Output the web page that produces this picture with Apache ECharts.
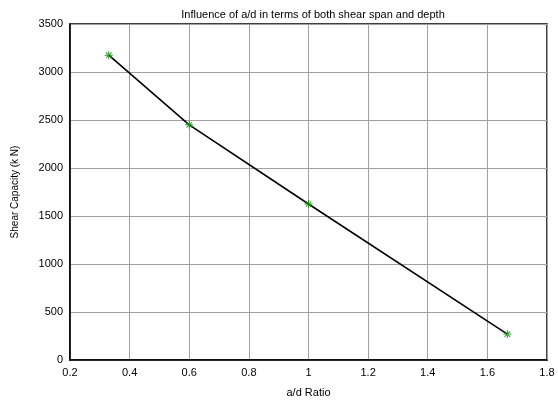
<!DOCTYPE html>
<html>
<head>
<meta charset="utf-8">
<script src="https://cdn.jsdelivr.net/npm/echarts@6/dist/echarts.min.js"></script>
<style>
html,body{margin:0;padding:0;background:#fff;}
#chart{width:558px;height:403px;}
</style>
</head>
<body>
<div id="chart"></div>
<script>
const titleText = 'Influence of a/d in terms of both shear span and depth';
const xName = 'a/d Ratio';
const yName = 'Shear Capacity (k N)';
const adRatio = [0.33, 0.6, 1.0, 1.667];
const shearCapacity = [3175, 2450, 1625, 270];

const starPath = 'path://M-0.6,-5h1.2v10h-1.2z M-5,-0.6h10v1.2h-10z M-3.9,-3.1L3.1,3.9L3.9,3.1L-3.1,-3.9z M3.1,-3.9L3.9,-3.1L-3.1,3.9L-3.9,3.1z';

const chart = echarts.init(document.getElementById('chart'));
const font = 'Liberation Sans, Arial, sans-serif';
chart.setOption({
  animation: false,
  backgroundColor: '#fff',
  title: {
    text: titleText,
    left: 308, top: 4, textAlign: 'center',
    textStyle: {fontFamily: font, fontSize: 11, fontWeight: 'normal', color: '#000'}
  },
  grid: {left: 70, right: 11, top: 24, bottom: 43, show: true, borderColor: '#000', borderWidth: 1.5, backgroundColor: '#fff'},
  xAxis: {
    type: 'value', min: 0.2, max: 1.8, interval: 0.2,
    name: xName, nameLocation: 'middle', nameGap: 27,
    nameTextStyle: {fontFamily: font, fontSize: 11, color: '#000'},
    axisLine: {show: true, lineStyle: {color: '#000', width: 1.5}},
    axisTick: {show: false},
    axisLabel: {fontFamily: font, fontSize: 11, color: '#000', margin: 7,
      formatter: v => String(+v.toFixed(1))},
    splitLine: {show: true, lineStyle: {color: '#a0a0a0', width: 1}}
  },
  yAxis: {
    type: 'value', min: 0, max: 3500, interval: 500,
    name: yName, nameLocation: 'middle', nameGap: 50,
    nameTextStyle: {fontFamily: font, fontSize: 10, color: '#000'},
    axisLine: {show: true, lineStyle: {color: '#000', width: 1.5}},
    axisTick: {show: false},
    axisLabel: {fontFamily: font, fontSize: 11, color: '#000', margin: 7,
      formatter: v => String(v)},
    splitLine: {show: true, lineStyle: {color: '#a0a0a0', width: 1}}
  },
  series: [{
    type: 'line',
    data: adRatio.map((x, i) => [x, shearCapacity[i]]),
    lineStyle: {color: '#000', width: 1.6},
    symbol: starPath,
    symbolSize: 8,
    itemStyle: {color: '#1a9a1a'},
    showAllSymbol: true,
    z: 3
  }]
});
</script>
</body>
</html>
